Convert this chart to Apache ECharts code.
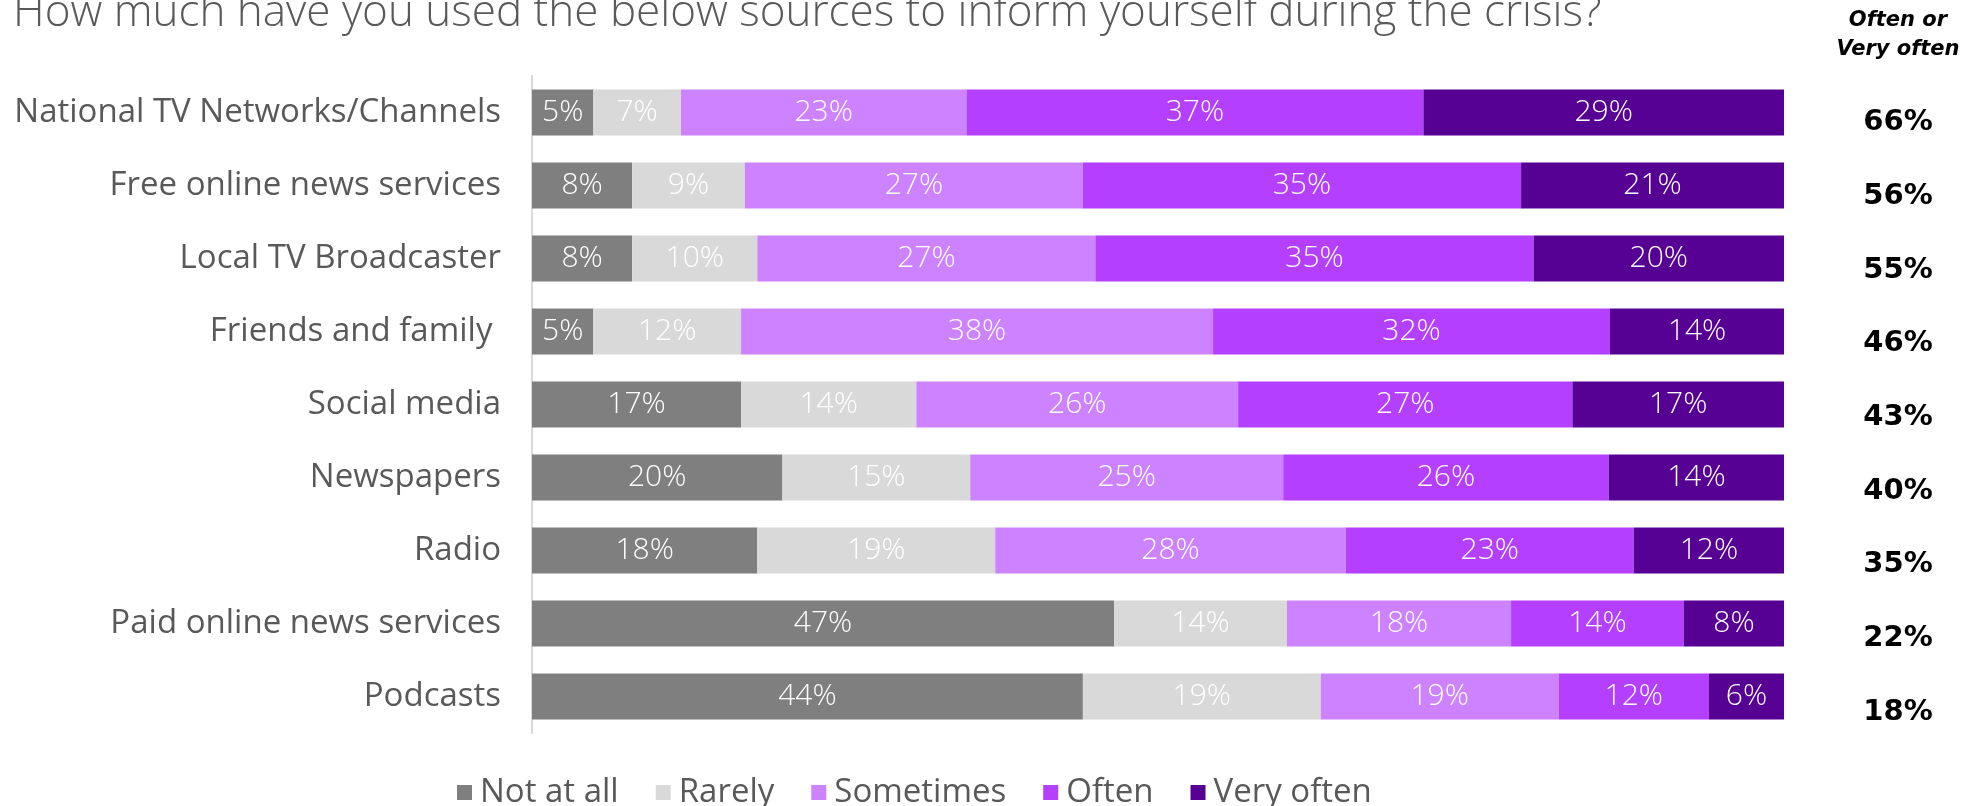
<!DOCTYPE html>
<html>
<head>
<meta charset="utf-8">
<script src="https://cdn.jsdelivr.net/npm/echarts@6/dist/echarts.min.js"></script>
<style>
  html, body { margin: 0; padding: 0; background: #ffffff; }
  #chart { width: 1975px; height: 806px; }
</style>
</head>
<body>
<div id="chart"></div>
<script>
// Media sources, top to bottom
const categories = [
  "National TV Networks/Channels",
  "Free online news services",
  "Local TV Broadcaster",
  "Friends and family ",
  "Social media",
  "Newspapers",
  "Radio",
  "Paid online news services",
  "Podcasts"
];

// Share of respondents per answer (%), each row sums to 100
const notAtAll  = [4.9, 8, 8, 4.9, 16.7, 20, 18, 46.5, 44];
const rarely    = [7.0, 9, 10, 11.8, 14.0, 15, 19, 13.8, 19];
const sometimes = [22.8, 27, 27, 37.7, 25.7, 25, 28, 17.9, 19];
const often     = [36.5, 35, 35, 31.7, 26.7, 26, 23, 13.8, 12];
const veryOften = [28.8, 21, 20, 13.9, 16.9, 14, 12, 8.0, 6];

// Combined "Often or Very often" column
const oftenOrVeryOften = [66, 56, 55, 46, 43, 40, 35, 22, 18];

const seriesNames  = ["Not at all", "Rarely", "Sometimes", "Often", "Very often"];
const seriesData   = [notAtAll, rarely, sometimes, often, veryOften];
const seriesColors = ["#7f7f7f", "#d9d9d9", "#cd82ff", "#b43fff", "#560094"];

const textGray = "#595959";
const baseFont = "'Open Sans', sans-serif";

const chart = echarts.init(document.getElementById('chart'));

const barSeries = seriesNames.map((name, i) => ({
  name: name,
  type: 'bar',
  stack: 'total',
  xAxisIndex: 0,
  yAxisIndex: 0,
  barWidth: 46,
  data: seriesData[i],
  itemStyle: { color: seriesColors[i] },
  label: {
    show: true,
    position: 'inside',
    color: '#ffffff',
    fontFamily: baseFont,
    fontWeight: 300,
    fontSize: 30,
    formatter: p => Math.round(p.value) + '%'
  },
  emphasis: { disabled: true }
}));

chart.setOption({
  animation: false,
  backgroundColor: '#ffffff',
  title: {
    text: 'How much have you used the below sources to inform yourself during the crisis?',
    left: 8,
    top: -14,
    textStyle: {
      color: textGray,
      fontFamily: baseFont,
      fontWeight: 300,
      fontSize: 44
    }
  },
  graphic: [
    {
      type: 'text',
      x: 1898,
      y: 6,
      style: {
        text: 'Often or\nVery often',
        align: 'center',
        verticalAlign: 'top',
        fill: '#000000',
        font: 'italic bold 21px "DejaVu Sans"',
        lineHeight: 29
      }
    }
  ],
  legend: {
    data: seriesNames,
    left: 452,
    top: 771,
    icon: 'rect',
    itemWidth: 15,
    itemHeight: 15,
    itemGap: 37,
    textStyle: {
      color: textGray,
      fontFamily: baseFont,
      fontWeight: 400,
      fontSize: 33,
      padding: [0, 0, 0, 3]
    }
  },
  grid: [
    { left: 532, top: 76, width: 1252, height: 657, containLabel: false },
    { left: 1898, top: 86, width: 1, height: 663, containLabel: false }
  ],
  xAxis: [
    { type: 'value', gridIndex: 0, min: 0, max: 100, show: false },
    { type: 'value', gridIndex: 1, min: 0, max: 1, show: false }
  ],
  yAxis: [
    {
      type: 'category',
      gridIndex: 0,
      inverse: true,
      data: categories,
      axisLine: { show: true, lineStyle: { color: '#d9d9d9', width: 2 } },
      axisTick: { show: false },
      axisLabel: {
        margin: 31,
        color: textGray,
        fontFamily: baseFont,
        fontWeight: 400,
        fontSize: 33
      }
    },
    {
      type: 'category',
      gridIndex: 1,
      inverse: true,
      data: oftenOrVeryOften,
      axisLine: { show: false },
      axisTick: { show: false },
      axisLabel: {
        margin: 0,
        align: 'center',
        color: '#000000',
        fontFamily: "'DejaVu Sans', sans-serif",
        fontWeight: 'bold',
        fontSize: 29,
        formatter: v => v + '%'
      }
    }
  ],
  series: barSeries
});
</script>
</body>
</html>
